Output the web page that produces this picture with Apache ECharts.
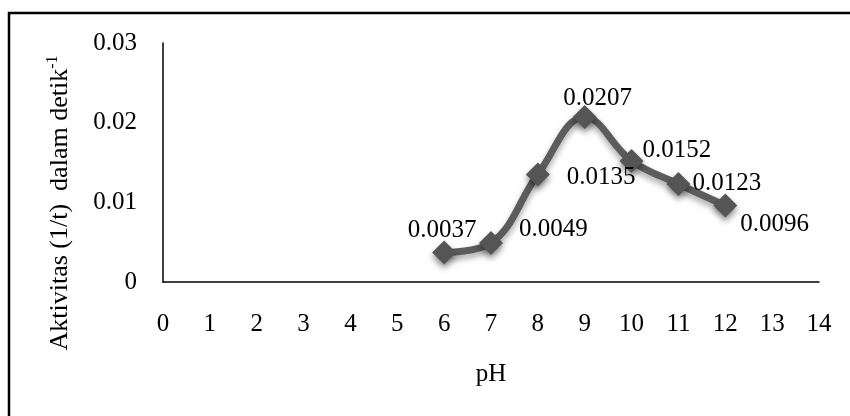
<!DOCTYPE html>
<html>
<head>
<meta charset="utf-8">
<script src="https://cdn.jsdelivr.net/npm/echarts@6/dist/echarts.min.js"></script>
<style>
html,body{margin:0;padding:0;background:#fff;}
#c{width:850px;height:416px;}
</style>
</head>
<body>
<div id="c"></div>
<script>
var phValues = [6, 7, 8, 9, 10, 11, 12];
var activity = [0.0037, 0.0049, 0.0135, 0.0207, 0.0152, 0.0123, 0.0096];
var labelTexts = ['0.0037', '0.0049', '0.0135', '0.0207', '0.0152', '0.0123', '0.0096'];
var xTicks = [0, 1, 2, 3, 4, 5, 6, 7, 8, 9, 10, 11, 12, 13, 14];
var yTicks = [0, 0.01, 0.02, 0.03];

var FONT = "'Liberation Serif','Times New Roman',serif";
var labelPlacement = [
  {position: 'top', distance: -2, offset: [-2, 0]},
  {position: 'right', distance: 16, offset: [0, -14]},
  {position: 'right', distance: 17, offset: [0, 3]},
  {position: 'top', distance: -6, offset: [13, 0]},
  {position: 'right', distance: -1, offset: [0, -10]},
  {position: 'right', distance: 2, offset: [0, -1]},
  {position: 'right', distance: 3, offset: [0, 19]}
];

var seriesData = phValues.map(function (x, i) {
  var p = labelPlacement[i];
  return {
    value: [x, activity[i]],
    label: {position: p.position, distance: p.distance, offset: p.offset, formatter: labelTexts[i]}
  };
});

var chart = echarts.init(document.getElementById('c'));
chart.setOption({
  animation: false,
  backgroundColor: '#fff',
  grid: {left: 163, right: 31, top: 43, bottom: 134},
  xAxis: {
    type: 'value',
    min: xTicks[0], max: xTicks[xTicks.length - 1], interval: 1,
    name: 'pH', nameLocation: 'middle', nameGap: 80,
    nameTextStyle: {fontFamily: FONT, fontSize: 25, color: '#000'},
    axisLine: {show: true, onZero: false, lineStyle: {color: '#000', width: 1.5}},
    axisTick: {show: false},
    splitLine: {show: false},
    axisLabel: {fontFamily: FONT, fontSize: 25, color: '#000', margin: 30}
  },
  yAxis: {
    type: 'value',
    min: yTicks[0], max: yTicks[yTicks.length - 1], interval: 0.01,
    axisLine: {show: true, lineStyle: {color: '#000', width: 1.5}},
    axisTick: {show: false},
    splitLine: {show: false},
    axisLabel: {fontFamily: FONT, fontSize: 25, color: '#000', margin: 26}
  },
  graphic: [
    {
      type: 'rect', silent: true,
      shape: {x: 9, y: 13, width: 1000, height: 600},
      style: {fill: 'none', stroke: '#000', lineWidth: 2.5}
    },
    {
      type: 'text', silent: true,
      x: 60, y: 203, rotation: Math.PI / 2,
      style: {
        text: 'Aktivitas (1/t)  dalam detik{sup|-1}',
        fontFamily: FONT, fontSize: 26, fill: '#000',
        align: 'center', verticalAlign: 'middle',
        lineHeight: 30,
        rich: {sup: {fontFamily: FONT, fontSize: 16, fill: '#000', verticalAlign: 'top', lineHeight: 16}}
      }
    }
  ],
  series: [{
    type: 'line',
    data: seriesData,
    smooth: 0.4,
    symbol: 'diamond',
    symbolSize: 24,
    lineStyle: {color: '#5c5c5c', width: 7, shadowBlur: 6, shadowColor: 'rgba(0,0,0,0.35)', shadowOffsetY: 4},
    itemStyle: {color: '#555555', shadowBlur: 6, shadowColor: 'rgba(0,0,0,0.45)', shadowOffsetY: 4},
    label: {show: true, fontFamily: FONT, fontSize: 25, color: '#000'}
  }]
});
</script>
</body>
</html>
